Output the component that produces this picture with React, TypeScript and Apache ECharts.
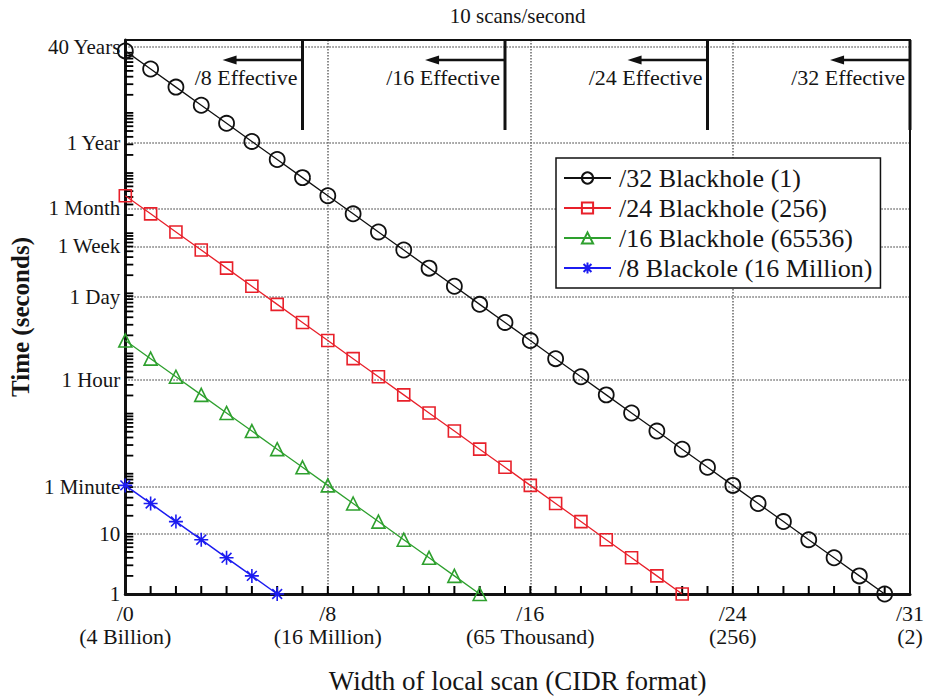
import React, { useEffect, useRef } from 'react';
import * as echarts from 'echarts';

// ---- data (CIDR width index → time in seconds) ----
const seriesNames = [
  '/32 Blackhole (1)',
  '/24 Blackhole (256)',
  '/16 Blackhole (65536)',
  '/8 Blackole (16 Million)',
];
const black32 = [
  1073741824, 536870912, 268435456, 134217728, 67108864, 33554432, 16777216, 8388608,
  4194304, 2097152, 1048576, 524288, 262144, 131072, 65536, 32768, 16384, 8192, 4096,
  2048, 1024, 512, 256, 128, 64, 32, 16, 8, 4, 2, 1,
];
const red24 = [
  4194304, 2097152, 1048576, 524288, 262144, 131072, 65536, 32768, 16384, 8192, 4096,
  2048, 1024, 512, 256, 128, 64, 32, 16, 8, 4, 2, 1,
];
const green16 = [16384, 8192, 4096, 2048, 1024, 512, 256, 128, 64, 32, 16, 8, 4, 2, 1];
const blue8 = [64, 32, 16, 8, 4, 2, 1];

// ---- axes ----
const xLabelValues = [0, 8, 16, 24, 31];
const xLabelTexts = ['/0\n(4 Billion)', '/8\n(16 Million)', '/16\n(65 Thousand)', '/24\n(256)', '/31\n(2)'];
const xGridValues = [8, 16, 24];
const xTickValues = [1, 2, 3, 4, 5, 6, 7, 8, 9, 10, 11, 12, 13, 14, 15, 16, 17, 18, 19, 20, 21, 22, 23, 24, 25, 26, 27, 28, 29, 30];
const yTickValues = [1, 10, 60, 3600, 86400, 604800, 2592000, 31536000, 1261440000];
const yTickNames = ['1', '10', '1 Minute', '1 Hour', '1 Day', '1 Week', '1 Month', '1 Year', '40 Years'];
const yMin = 1;
const yMax = 1.63e9;
const minorMultipliers = [1, 2, 3, 4, 5, 6, 7, 8, 9];
const decades = [1, 10, 100, 1e3, 1e4, 1e5, 1e6, 1e7, 1e8, 1e9];

// ---- annotations (“/n Effective” at 10 scans/second) ----
const effX = [7, 15, 23, 31];
const effLabels = ['/8 Effective', '/16 Effective', '/24 Effective', '/32 Effective'];
const effArrowLen = 3;
const effLineBottomValue = 5.2e7;
const effArrowValue = 7.6e8;

const FONT = "'Liberation Serif', 'Times New Roman', serif";
const TXT = '#151515';

export default function App() {
  const ref = useRef<HTMLDivElement>(null);

  useEffect(() => {
    document.body.style.margin = '0';
    const chart = echarts.init(ref.current!, null, { renderer: 'svg' });

    const minorTicks: number[] = [];
    decades.forEach((d) => minorMultipliers.forEach((m) => {
      const v = d * m;
      if (v > 1 && v <= yMax) minorTicks.push(v);
    }));

    const yName = (v: number) => {
      let best = 0;
      let bd = Infinity;
      yTickValues.forEach((t, i) => {
        const d = Math.abs(Math.log(v) - Math.log(t));
        if (d < bd) { bd = d; best = i; }
      });
      return yTickNames[best];
    };
    const xName = (v: number) => {
      const i = xLabelValues.findIndex((t) => Math.abs(t - v) < 1e-6);
      return i >= 0 ? xLabelTexts[i] : '';
    };

    const dotted = { color: '#707070', width: 1.6, type: [1.5, 1.5] as any };
    const TICK_LEN = 8;

    const mk = (vals: number[]) => vals.map((v, i) => [i, v]);

    const asterisk = 'path://M10 0L10 20M0 10L20 10M3 3L17 17M3 17L17 3';

    chart.setOption({
      animation: false,
      backgroundColor: '#fff',
      textStyle: { fontFamily: FONT, color: TXT },
      grid: { left: 118, right: 20, top: 40, bottom: 104, show: false },
      legend: {
        data: seriesNames,
        orient: 'vertical',
        left: 556,
        top: 158,
        itemWidth: 47,
        itemHeight: 14,
        itemGap: 4,
        padding: [7, 8, 7, 7],
        backgroundColor: '#fff',
        borderColor: '#111',
        borderWidth: 1.5,
        textStyle: { fontFamily: FONT, fontSize: 26, color: TXT, padding: [0, 0, 0, 3] },
        z: 10,
      },
      xAxis: [
        {
          type: 'value', min: 0, max: 31, interval: 1, position: 'bottom',
          axisLine: { show: true, onZero: false, lineStyle: { color: '#111', width: 3 } },
          axisTick: { show: false },
          axisLabel: {
            customValues: xLabelValues, formatter: xName, fontFamily: FONT, fontSize: 22,
            color: TXT, lineHeight: 23, margin: 8,
          },
          splitLine: { show: false },
          name: 'Width of local scan (CIDR format)', nameLocation: 'middle', nameGap: 73,
          nameTextStyle: { fontFamily: FONT, fontSize: 27, color: TXT },
        },
        {
          type: 'value', min: 0, max: 31, position: 'top',
          axisLine: { show: true, onZero: false, lineStyle: { color: '#111', width: 2 } },
          axisTick: { show: false, customValues: xGridValues },
          axisLabel: { show: false },
          splitLine: { show: true, lineStyle: dotted },
          name: '10 scans/second', nameLocation: 'middle', nameGap: 14,
          nameTextStyle: { fontFamily: FONT, fontSize: 21, color: TXT },
        },
      ],
      yAxis: [
        {
          type: 'log', min: yMin, max: yMax, position: 'left',
          axisLine: { show: true, onZero: false, lineStyle: { color: '#111', width: 3 } },
          axisTick: { show: false },
          axisLabel: { customValues: yTickValues, formatter: yName, fontFamily: FONT, fontSize: 21, color: TXT, margin: 5 },
          splitLine: { show: false },
          name: 'Time (seconds)', nameLocation: 'middle', nameGap: 83,
          nameTextStyle: { fontFamily: FONT, fontSize: 25, fontWeight: 'bold', color: TXT },
        },
        {
          type: 'log', min: yMin, max: yMax, position: 'right',
          axisLine: { show: true, onZero: false, lineStyle: { color: '#111', width: 2 } },
          axisTick: { show: false, customValues: yTickValues.slice(1) },
          axisLabel: { show: false },
          splitLine: { show: true, lineStyle: dotted },
        },
      ],
      series: [
        {
          name: seriesNames[0], type: 'line', data: mk(black32), symbol: 'circle', symbolSize: 15,
          itemStyle: { color: 'rgba(255,255,255,0)', borderColor: '#111', borderWidth: 1.8 },
          lineStyle: { color: '#111', width: 1.3 }, z: 3,
        },
        {
          name: seriesNames[1], type: 'line', data: mk(red24), symbol: 'rect', symbolSize: 12,
          itemStyle: { color: 'rgba(255,255,255,0)', borderColor: '#e8202a', borderWidth: 1.6 },
          lineStyle: { color: '#e8202a', width: 1.3 }, z: 3,
        },
        {
          name: seriesNames[2], type: 'line', data: mk(green16), symbol: 'triangle', symbolSize: 13,
          itemStyle: { color: 'rgba(255,255,255,0)', borderColor: '#2ea02e', borderWidth: 1.6 },
          lineStyle: { color: '#2ea02e', width: 1.3 }, z: 3,
        },
        {
          name: seriesNames[3], type: 'line', data: mk(blue8), symbol: asterisk, symbolSize: 14,
          itemStyle: { color: '#1c1cf0', borderColor: '#1c1cf0', borderWidth: 1.6 },
          lineStyle: { color: '#1c1cf0', width: 1.5 }, z: 3,
        },
        // inward tick marks of the bottom axis (one per CIDR step)
        {
          type: 'custom', name: 'xTicks', silent: true, z: 2, clip: false,
          data: xTickValues.map((x) => [x, yMin]),
          renderItem: (params: any, api: any) => {
            const [px, py] = api.coord([api.value(0), yMin]);
            return {
              type: 'line',
              shape: { x1: px, y1: py, x2: px, y2: py - TICK_LEN },
              style: { stroke: '#000', lineWidth: 2 },
            };
          },
        },
        // inward tick marks of the left log axis (1–9 per decade)
        {
          type: 'custom', name: 'yTicks', silent: true, z: 2, clip: false,
          data: minorTicks.map((v) => [0, v]),
          renderItem: (params: any, api: any) => {
            const [px, py] = api.coord([0, api.value(1)]);
            return {
              type: 'line',
              shape: { x1: px, y1: py, x2: px + TICK_LEN, y2: py },
              style: { stroke: '#000', lineWidth: 1.8 },
            };
          },
        },
        {
          type: 'custom', name: 'effective', silent: true, z: 4, clip: false,
          data: effX.map((x) => [x, effArrowValue]),
          renderItem: (params: any, api: any) => {
            const x = api.value(0);
            const top = params.coordSys.y;
            const [px, pBottom] = api.coord([x, effLineBottomValue]);
            const [, pArrow] = api.coord([x, effArrowValue]);
            const [ax] = api.coord([x - effArrowLen, effArrowValue]);
            return {
              type: 'group',
              children: [
                { type: 'line', shape: { x1: px, y1: top, x2: px, y2: pBottom }, style: { stroke: '#111', lineWidth: 3 } },
                { type: 'line', shape: { x1: px, y1: pArrow, x2: ax + 8, y2: pArrow }, style: { stroke: '#111', lineWidth: 2.5 } },
                { type: 'polygon', shape: { points: [[ax - 4, pArrow], [ax + 10, pArrow - 4.5], [ax + 10, pArrow + 4.5]] }, style: { fill: '#111' } },
                {
                  type: 'text',
                  style: {
                    text: effLabels[params.dataIndex], x: px - 5, y: pArrow + 18, align: 'right', verticalAlign: 'middle',
                    fontFamily: FONT, fontSize: 22, fill: TXT,
                  },
                },
              ],
            };
          },
        },
      ],
    });

    return () => chart.dispose();
  }, []);

  return <div ref={ref} style={{ width: 930, height: 699 }} />;
}
